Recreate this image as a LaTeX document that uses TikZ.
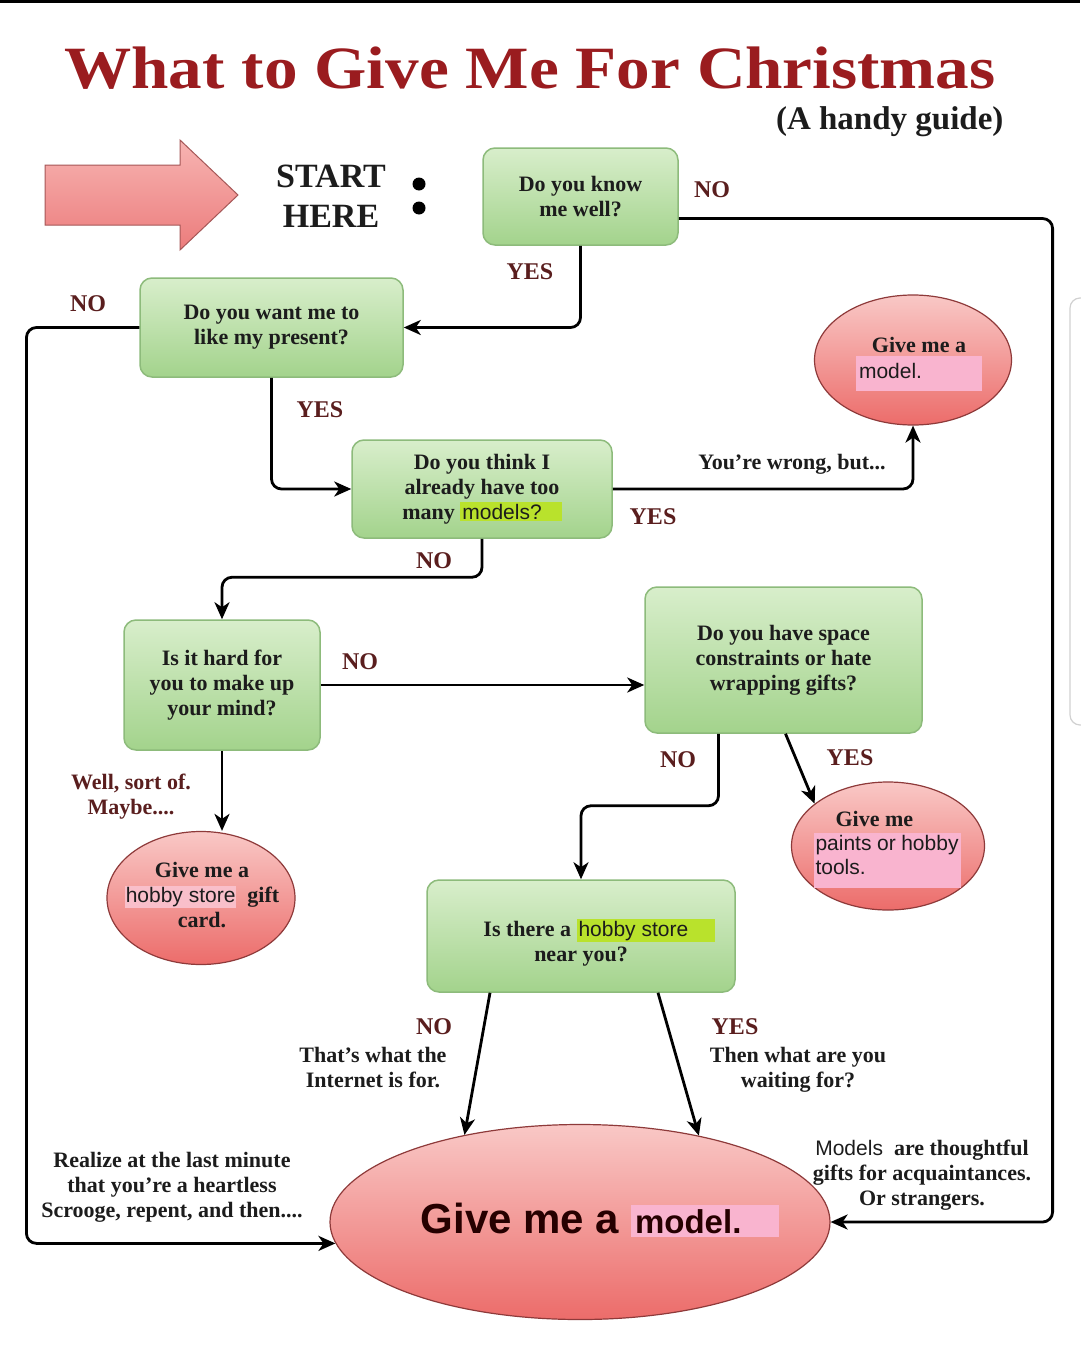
\documentclass[tikz,border=0pt]{standalone}
\usepackage{fontspec}
\setmainfont{Liberation Serif}
\newfontfamily\sansf{Liberation Sans}
\usetikzlibrary{shapes.geometric,arrows.meta,calc}
\definecolor{gtop}{HTML}{D8EECB}
\definecolor{gbot}{HTML}{A3D38C}
\definecolor{gborder}{HTML}{8DBB7B}
\definecolor{etop}{HTML}{F9C8C6}
\definecolor{ebot}{HTML}{EC6C6A}
\definecolor{eborder}{HTML}{8E3A3A}
\definecolor{titlecol}{HTML}{9A1C1F}
\definecolor{labcol}{HTML}{5A1E1E}
\definecolor{hlgreen}{HTML}{B9E22C}
\definecolor{hlpink}{HTML}{F9B4CF}
\definecolor{txtcol}{HTML}{1C1C1C}
\definecolor{arrtop}{HTML}{F7B4B2}
\definecolor{arrbot}{HTML}{EC7C7C}
\newcommand\bfnt{\fontsize{22}{25}\selectfont\bfseries}
\newcommand\lfnt{\fontsize{24}{26}\selectfont\bfseries}
\newcommand\hlbox[3]{{\setlength\fboxsep{#1}\colorbox{#2}{#3}}}
\begin{document}
\begin{tikzpicture}[x=1pt,y=-1pt,
  qbox/.style={rectangle, rounded corners=12pt, draw=gborder, line width=1.5pt,
     top color=gtop, bottom color=gbot, align=center, font=\bfnt, text=txtcol},
  gell/.style={ellipse, draw=eborder, line width=1.2pt, top color=etop,
     bottom color=ebot, inner sep=0pt},
  etext/.style={align=center, font=\bfnt, text=txtcol},
  lab/.style={font=\lfnt, text=labcol},
  txt/.style={font=\bfnt, text=txtcol, align=center},
  arr/.style={-{Stealth[length=17pt,width=15pt,inset=5pt]}, line width=2.8pt,
     rounded corners=10pt, draw=black}]
\useasboundingbox (0,0) rectangle (1080,1357);
\fill[white] (0,0) rectangle (1080,1357);
\fill[black] (0,0) rectangle (1080,3);
\draw[black!18, line width=1.2pt, rounded corners=10pt] (1082,298) -- (1070,298) -- (1070,725) -- (1082,725);

% title
\node[font=\fontsize{60}{64}\selectfont\bfseries, text=titlecol, xscale=1.12] (title) at (530,68) {What to Give Me For Christmas};
\node[font=\fontsize{33}{35}\selectfont\bfseries, text=txtcol, anchor=east] (sub) at (1007,122) {(A handy guide)};

% start arrow
\draw[draw=arrbot!70!black, line width=1pt, top color=arrtop, bottom color=arrbot]
  (45,165) -- (180,165) -- (180,140) -- (238,195) -- (180,250) -- (180,225) -- (45,225) -- cycle;
\node[font=\fontsize{34}{40}\selectfont\bfseries, align=center, text=txtcol] (start) at (331,196) {START\\HERE};
\fill[black] (419,184) circle (6.5);
\fill[black] (419,208) circle (6.5);

% question boxes
\node[qbox, minimum width=195pt, minimum height=97pt] (b1) at (580.5,196.5) {Do you know\\me well?};
\node[qbox, minimum width=263pt, minimum height=99pt] (b2) at (271.5,327.5) {Do you want me to\\like my present?};
\node[qbox, minimum width=260pt, minimum height=98pt] (b3) at (482,489) {Do you think I\\already have too\\many \hlbox{2pt}{hlgreen}{\sansf\mdseries\fontsize{21}{24}\selectfont models?\hspace{18pt}}};
\node[qbox, minimum width=196pt, minimum height=130pt] (b4) at (222,685) {Is it hard for\\you to make up\\your mind?};
\node[qbox, minimum width=277pt, minimum height=146pt] (b5) at (783.5,660) {Do you have space\\constraints or hate\\wrapping gifts?};
\node[qbox, minimum width=308pt, minimum height=112pt] (b6) at (581,936) {\rule{0pt}{30pt}\hspace{36pt}Is there a \hlbox{2pt}{hlgreen}{\sansf\mdseries\fontsize{21}{24}\selectfont\makebox[134pt][l]{hobby store}}\\near you?};

% answer ellipses
\node[gell, minimum width=197pt, minimum height=130pt] (e1) at (913,360) {};
\node[etext] (e1t) at (919,364) {Give me a\\[1pt]\hlbox{3pt}{hlpink}{\sansf\mdseries\fontsize{21}{24}\selectfont\rule[-9pt]{0pt}{29pt}\makebox[120pt][l]{model.}}};
\node[gell, minimum width=188pt, minimum height=133pt] (e2) at (201,898) {};
\node[etext] (e2t) at (202,895) {Give me a\\\hlbox{1pt}{hlpink!45!etop}{\sansf\mdseries\fontsize{21}{24}\selectfont hobby store}\ \ gift\\card.};
\node[gell, minimum width=193pt, minimum height=128pt] (e3) at (888,846) {};
\node[etext, align=left, anchor=north west] (e3t) at (810,808) {\hspace{22pt}Give me\\[5pt]\hlbox{2pt}{hlpink}{\parbox{143pt}{\sansf\mdseries\fontsize{21}{24}\selectfont paints or hobby\\tools.\rule[-12pt]{0pt}{12pt}}}};
\node[gell, minimum width=500pt, minimum height=195pt] (big) at (580,1222) {};
\node[text=black!85!red, anchor=center] (bigt) at (600,1220) {\sansf\bfseries\fontsize{42}{48}\selectfont Give me a \hlbox{4pt}{hlpink}{\fontsize{33}{36}\selectfont\makebox[140pt][l]{model.}}};

% connectors
\draw[arr] ($(b1.east)+(0,22)$) -| ($(big.east)+(222,0)$) -- (big.east);
\draw[arr] (b1.south) |- (b2.east);
\draw[arr] (b2.west) -| ($(big.185)+(-309,0)$) -- (big.185);
\draw[arr] (b2.south) |- (b3.west);
\draw[arr] (b3.east) -| (e1.south);
\draw[arr] (b3.south) |- ($(b4.north)+(0,-42)$) -- (b4.north);
\draw[arr] (b4.east) -- (b4.east -| b5.west);
\draw[arr] ($(b5.south)+(-65,0)$) -- ++(0,72) -| (b6.north);
\draw[arr] ($(b5.south)+(2,0)$) -- (e3.150);
\draw[arr] (b4.south) -- (b4.south |- e2.north);
\draw[arr] ($(b6.south)+(-91,0)$) -- (big.143);
\draw[arr] ($(b6.south)+(77,0)$) -- (big.36);

% labels
\node[lab] (no1) at (712,190) {NO};
\node[lab] (yes1) at (530,272) {YES};
\node[lab] (no2) at (88,304) {NO};
\node[lab] (yes2) at (320,410) {YES};
\node[txt] (wrong) at (792,464) {You're wrong, but...};
\node[lab] (yes3) at (653,517) {YES};
\node[lab] (no3) at (434,561) {NO};
\node[lab] (no4) at (360,662) {NO};
\node[lab] (no5) at (678,760) {NO};
\node[lab] (yes5) at (850,758) {YES};
\node[txt, text=labcol] (maybe) at (131,797) {Well, sort of.\\Maybe....};
\node[lab] (no6) at (434,1027) {NO};
\node[txt] (internet) at (373,1068) {That's what the\\Internet is for.};
\node[lab] (yes6) at (735,1027) {YES};
\node[txt] (waiting) at (798,1070) {Then what are you\\waiting for?};
\node[txt] (realize) at (172,1187) {Realize at the last minute\\that you're a heartless\\Scrooge, repent, and then....};
\node[txt] (models) at (922,1175) {{\sansf\mdseries\fontsize{21}{24}\selectfont Models}\ \ are thoughtful\\gifts for acquaintances.\\Or strangers.};
\end{tikzpicture}
\end{document}
